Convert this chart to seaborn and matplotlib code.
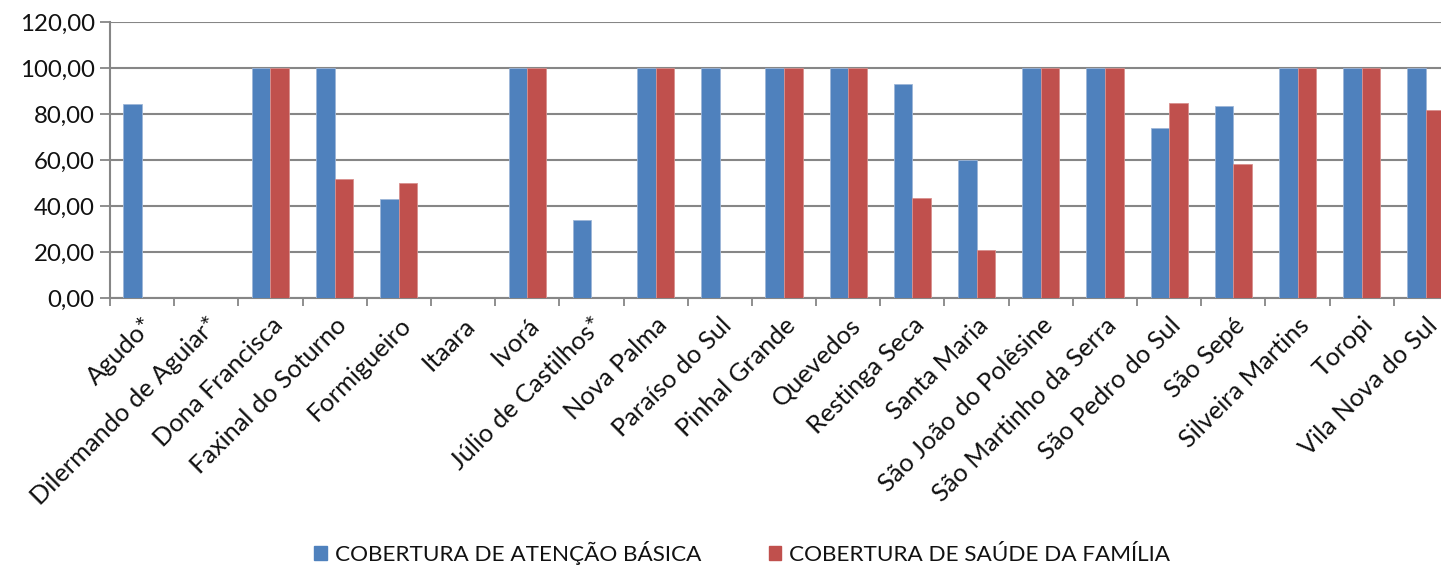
import matplotlib
matplotlib.use("Agg")
import matplotlib.pyplot as plt
import seaborn as sns
import pandas as pd
import numpy as np

municipios = ["Agudo*", "Dilermando de Aguiar*", "Dona Francisca", "Faxinal do Soturno",
              "Formigueiro", "Itaara", "Ivorá", "Júlio de Castilhos*", "Nova Palma",
              "Paraíso do Sul", "Pinhal Grande", "Quevedos", "Restinga Seca", "Santa Maria",
              "São João do Polêsine", "São Martinho da Serra", "São Pedro do Sul", "São Sepé",
              "Silveira Martins", "Toropi", "Vila Nova do Sul"]
atencao_basica = [84.2, 0, 100, 100, 43.1, 0, 100, 34.0, 100, 100, 100, 100, 93.2, 59.9,
                  100, 100, 73.7, 83.5, 100, 100, 100]
saude_familia = [0, 0, 100, 51.7, 49.8, 0, 100, 0, 100, 0, 100, 100, 43.4, 20.8,
                 100, 100, 84.6, 58.2, 100, 100, 81.7]
series_names = ["COBERTURA DE ATENÇÃO BÁSICA", "COBERTURA DE SAÚDE DA FAMÍLIA"]
yticks = [0, 20, 40, 60, 80, 100, 120]

df = pd.DataFrame({
    "municipio": municipios * 2,
    "valor": atencao_basica + saude_familia,
    "serie": [series_names[0]] * len(municipios) + [series_names[1]] * len(municipios),
})

sns.set_theme(style="white")
plt.rcParams['font.family'] = ['Lato', 'DejaVu Sans']
plt.rcParams['text.color'] = '#111111'

fig = plt.figure(figsize=(14.41, 5.67), dpi=100)
ax = fig.add_axes([110 / 1441, 1 - 298 / 567, (1458 - 110) / 1441, (298 - 22) / 567])

sns.barplot(data=df, x="municipio", y="valor", hue="serie", order=municipios,
            hue_order=series_names, palette=["#4F81BD", "#C0504D"], width=0.58,
            saturation=1, edgecolor="#9DB6D8", linewidth=0.6, ax=ax, zorder=3)
for p in ax.patches[len(municipios):2 * len(municipios)]:
    p.set_edgecolor("#D8908E")

ax.set_ylim(0, 120)
ax.set_xlim(-0.5, len(municipios) - 0.5)
ax.set_yticks(yticks)
ax.set_yticklabels([f"{v:.2f}".replace(".", ",") for v in yticks], fontsize=17.3, color="#111111")
ax.yaxis.grid(True, color="#868686", linewidth=1.5, zorder=0)
ax.set_axisbelow(True)

ax.set_xticks(np.arange(len(municipios)))
ax.set_xticklabels(municipios, rotation=45, ha="right", rotation_mode="anchor",
                   fontsize=18.3, color="#111111")
ax.tick_params(axis="x", which="major", length=0, pad=11)
ax.set_xticks(np.arange(len(municipios) + 1) - 0.5, minor=True)
ax.tick_params(axis="x", which="minor", length=6, width=1.3, color="#868686", bottom=True)
ax.tick_params(axis="y", length=7, width=1.3, color="#868686", left=True, pad=4)

for s in ["top", "right"]:
    ax.spines[s].set_visible(False)
for s in ["left", "bottom"]:
    ax.spines[s].set_color("#868686")
    ax.spines[s].set_linewidth(1.5)

ax.set_xlabel("")
ax.set_ylabel("")
ax.legend_.remove()
handles = [plt.Rectangle((0, 0), 1, 1, color=c) for c in ["#4F81BD", "#C0504D"]]
fig.legend(handles, series_names, loc="center", bbox_to_anchor=(0.515, 1 - 553 / 567),
           ncol=2, frameon=False, fontsize=16.2, handlelength=0.55, handleheight=0.55,
           handletextpad=0.35, columnspacing=3.0)

fig.savefig("out.png", dpi=100)
